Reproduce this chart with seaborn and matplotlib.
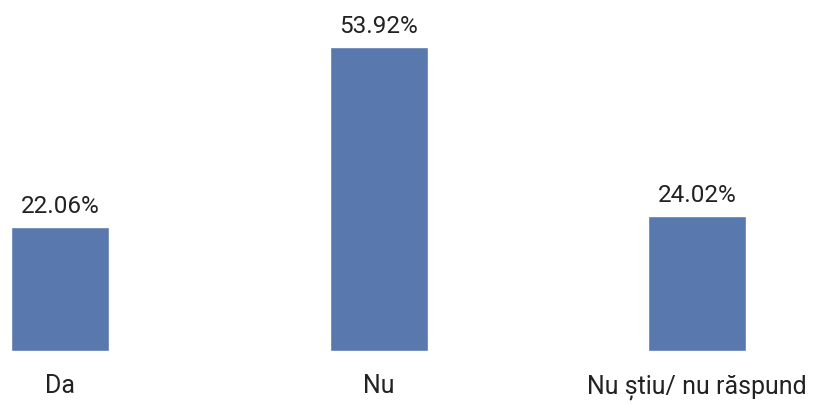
import matplotlib
matplotlib.use("Agg")
import matplotlib.pyplot as plt
import seaborn as sns
import pandas as pd

# data
categories = ["Da", "Nu", "Nu știu/ nu răspund"]
percentages = [22.06, 53.92, 24.02]
bar_color = "#5878ae"

df = pd.DataFrame({"raspuns": categories, "procent": percentages})

sns.set_style("white")
plt.rcParams["font.family"] = ["Roboto", "DejaVu Sans"]

fig = plt.figure(figsize=(8.18, 4.06), dpi=100)
ax = fig.add_axes([0, 0.133, 1, 0.867])

sns.barplot(data=df, x="raspuns", y="procent", color=bar_color,
            width=0.308, saturation=1, ax=ax)

# value labels above each bar
for i, v in enumerate(percentages):
    ax.annotate(f"{v:.2f}%", (i, v), xytext=(0, 7), textcoords="offset points",
                ha="center", va="bottom", fontsize=17.5, color="#222222")

ax.set_xlim(-0.19, 2.38)
ax.set_ylim(0, 62.4)
ax.set_xlabel("")
ax.set_ylabel("")
ax.set_yticks([])
ax.tick_params(axis="x", length=0, pad=16, labelsize=18, labelcolor="#222222")
sns.despine(ax=ax, left=True, bottom=True)

fig.savefig("out.png", dpi=100)
